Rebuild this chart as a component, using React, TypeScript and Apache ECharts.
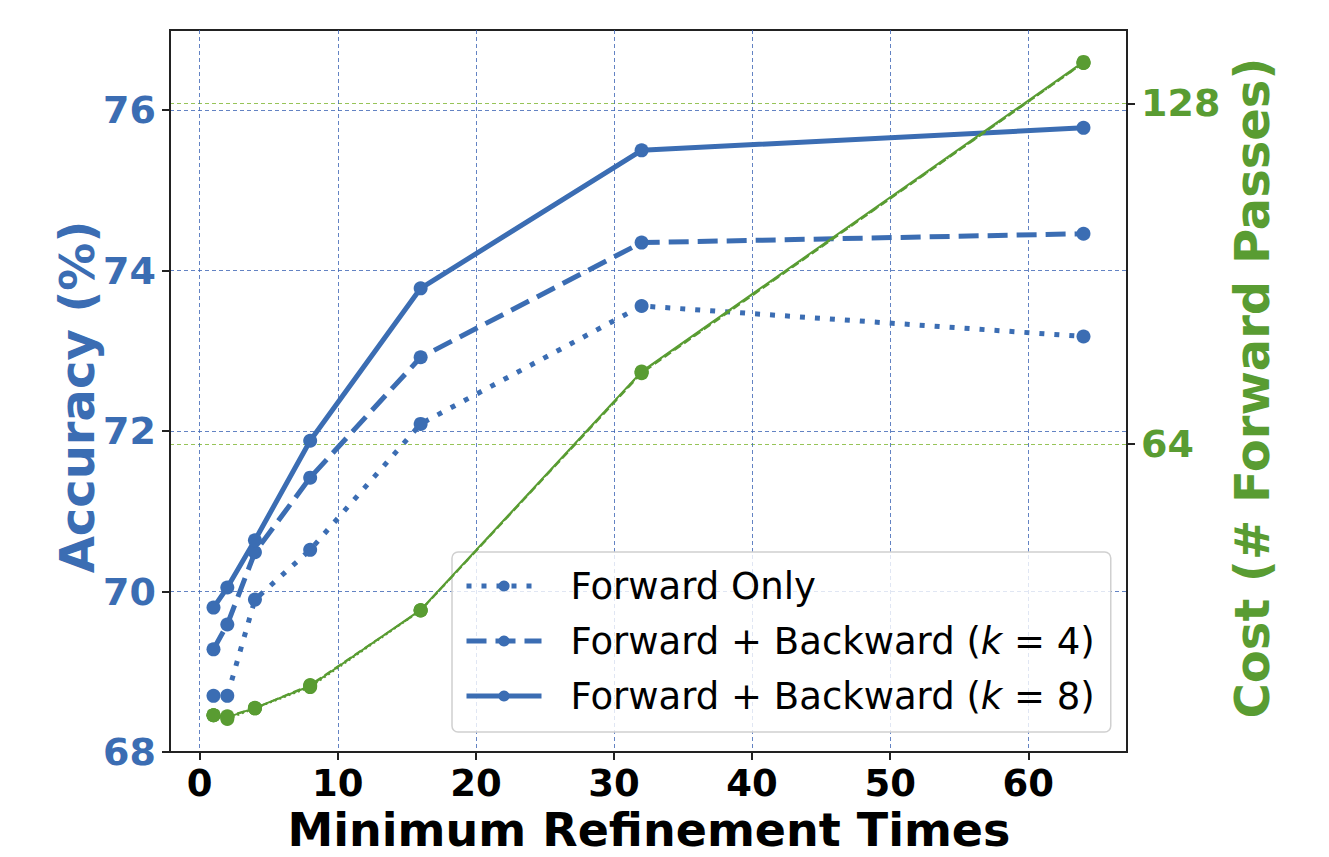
import React, { useEffect, useRef } from "react";
import * as echarts from "echarts";

const refinementTimes = [1, 2, 4, 8, 16, 32, 64];
const accForwardOnly = [68.7, 68.7, 69.9, 70.52, 72.09, 73.56, 73.18];
const accK4 = [69.28, 69.59, 70.49, 71.42, 72.92, 74.35, 74.46];
const accK8 = [69.8, 70.05, 70.64, 71.88, 73.78, 75.5, 75.78];
const costForwardOnly = [13.0, 12.3, 14.3, 18.3, 32.7, 77.5, 135.6];
const costK4 = [13.0, 12.8, 14.3, 18.7, 32.7, 77.3, 135.6];
const costK8 = [13.0, 12.6, 14.4, 18.5, 32.8, 77.6, 135.8];
const xTicks = [0, 10, 20, 30, 40, 50, 60];
const accTicks = [68, 70, 72, 74, 76];
const costTicks = [64, 128];
const seriesNames = ["Forward Only", "Forward + Backward (k = 4)", "Forward + Backward (k = 8)"];

const BLUE = "#3b6db3";
const GREEN = "#599c32";
const FONT = "DejaVu Sans";

const pairs = (ys: number[]) => refinementTimes.map((x, i) => [x, ys[i]]);

export default function App() {
  const ref = useRef<HTMLDivElement>(null);
  useEffect(() => {
    if (!ref.current) return;
    const chart = echarts.init(ref.current, undefined, { renderer: "svg" });
    const blueLine = (name: string, ys: number[], type: any) => ({
      name,
      type: "line",
      data: pairs(ys),
      xAxisIndex: 0,
      yAxisIndex: 0,
      symbol: "circle",
      symbolSize: 14,
      itemStyle: { color: BLUE },
      lineStyle: { color: BLUE, width: 5, type, cap: "butt" },
      z: 3,
    });
    const greenLine = (name: string, ys: number[], type: any) => ({
      name,
      type: "line",
      data: pairs(ys),
      xAxisIndex: 0,
      yAxisIndex: 1,
      symbol: "circle",
      symbolSize: 14,
      itemStyle: { color: GREEN },
      lineStyle: { color: GREEN, width: 2, type },
      z: 4,
    });
    const gridLine = { show: true, lineStyle: { color: "rgba(60,100,180,0.8)", width: 1, type: [4, 3] } };
    const option: any = {
      animation: false,
      backgroundColor: "#ffffff",
      grid: {
        left: 170,
        right: 202,
        top: 30,
        bottom: 105,
        show: true,
        borderColor: "#222",
        borderWidth: 2,
        backgroundColor: "transparent",
      },
      xAxis: {
        type: "value",
        min: -2.15,
        max: 67.15,
        axisLine: { show: true, onZero: false, lineStyle: { color: "#222", width: 2 } },
        axisTick: { show: true, customValues: xTicks, length: 8, lineStyle: { color: "#222", width: 2 } },
        axisLabel: {
          customValues: xTicks,
          color: "#000",
          fontFamily: FONT,
          fontWeight: "bold",
          fontSize: 37,
          lineHeight: 36,
          margin: 13,
        },
        splitLine: gridLine,
      },
      yAxis: [
        {
          type: "value",
          position: "left",
          min: 68,
          max: 77,
          axisLine: { show: true, onZero: false, lineStyle: { color: "#222", width: 2 } },
          axisTick: { show: true, customValues: accTicks, length: 8, lineStyle: { color: "#222", width: 2 } },
          axisLabel: {
            customValues: accTicks,
            color: BLUE,
            fontFamily: FONT,
            fontWeight: "bold",
            fontSize: 38,
            margin: 14,
          },
          splitLine: gridLine,
        },
        {
          type: "value",
          position: "right",
          min: 6.1,
          max: 141.8,
          axisLine: { show: true, onZero: false, lineStyle: { color: "#222", width: 2 } },
          axisTick: { show: true, customValues: costTicks, length: 8, lineStyle: { color: "#222", width: 2 } },
          axisLabel: {
            customValues: costTicks,
            color: GREEN,
            fontFamily: FONT,
            fontWeight: "bold",
            fontSize: 38,
            margin: 14,
          },
          splitLine: { show: true, lineStyle: { color: "rgba(140,190,70,0.9)", width: 1, type: [4, 3] } },
        },
      ],
      legend: {
        data: seriesNames,
        orient: "vertical",
        left: 452,
        top: 552,
        itemWidth: 75,
        itemHeight: 14,
        itemGap: 11,
        padding: [12, 16, 14, 12],
        backgroundColor: "rgba(255,255,255,0.8)",
        borderColor: "#d0d0d0",
        borderWidth: 1.5,
        borderRadius: 6,
        lineStyle: { width: 5 },
        formatter: (name: string) => name.replace("(k = ", "({it|k} = "),
        textStyle: {
          fontFamily: FONT,
          fontSize: 37,
          color: "#000",
          padding: [0, 0, 0, 24],
          lineHeight: 44,
          rich: {
            it: { fontFamily: FONT, fontSize: 37, fontStyle: "italic", color: "#000" },
          },
        },
      },
      series: [
        blueLine(seriesNames[0], accForwardOnly, [5, 10]),
        blueLine(seriesNames[1], accK4, [20, 9]),
        blueLine(seriesNames[2], accK8, "solid"),
        greenLine("Cost Forward Only", costForwardOnly, [2, 3]),
        greenLine("Cost k4", costK4, [8, 4]),
        greenLine("Cost k8", costK8, "solid"),
      ],
      graphic: [
        {
          type: "text",
          x: 77,
          y: 397,
          rotation: Math.PI / 2,
          style: {
            text: "Accuracy (%)",
            fontFamily: FONT,
            fontWeight: "bold",
            fontSize: 48,
            lineHeight: 48,
            fill: BLUE,
            textAlign: "center",
            textVerticalAlign: "middle",
          },
        },
        {
          type: "text",
          x: 1252,
          y: 388,
          rotation: Math.PI / 2,
          style: {
            text: "Cost (# Forward Passes)",
            fontFamily: FONT,
            fontWeight: "bold",
            fontSize: 48,
            lineHeight: 48,
            fill: GREEN,
            textAlign: "center",
            textVerticalAlign: "middle",
          },
        },
        {
          type: "text",
          x: 649,
          y: 830,
          style: {
            text: "Minimum Refinement Times",
            fontFamily: FONT,
            fontWeight: "bold",
            fontSize: 46,
            lineHeight: 40,
            fill: "#000",
            textAlign: "center",
            textVerticalAlign: "middle",
          },
        },
      ],
    };
    chart.setOption(option);
    return () => chart.dispose();
  }, []);
  return (
    <div
      ref={ref}
      style={{ position: "fixed", left: 0, top: 0, width: 1329, height: 857, background: "#fff" }}
    />
  );
}
